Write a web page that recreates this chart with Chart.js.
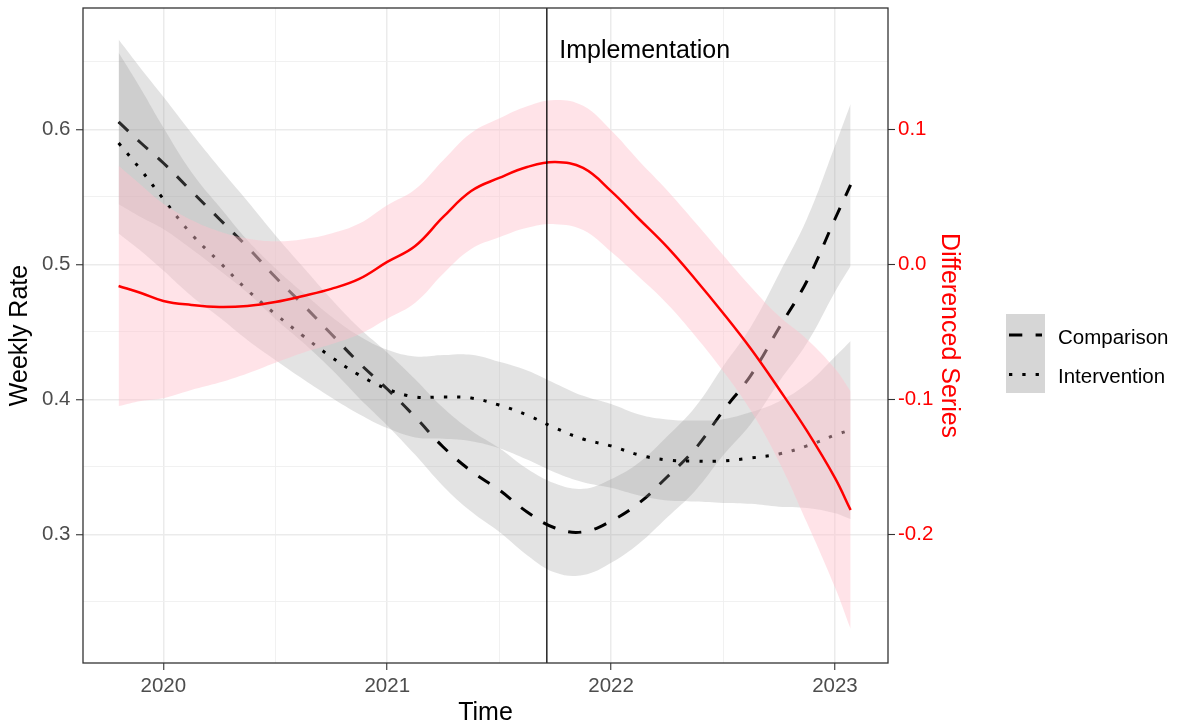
<!DOCTYPE html>
<html>
<head>
<meta charset="utf-8">
<script src="https://cdn.jsdelivr.net/npm/chart.js@4.4.1/dist/chart.umd.min.js"></script>
<style>
html,body{margin:0;padding:0;background:#ffffff;}
canvas{display:block;}
</style>
</head>
<body>
<canvas id="chart" width="1184" height="726"></canvas>
<script>
// ---------------- data ----------------
const years = [2019.8, 2019.9, 2020, 2020.125, 2020.25, 2020.375, 2020.5, 2020.625, 2020.75, 2020.875,
  2021, 2021.125, 2021.25, 2021.375, 2021.5, 2021.625, 2021.75, 2021.875,
  2022, 2022.125, 2022.25, 2022.375, 2022.5, 2022.625, 2022.75, 2022.875, 2023, 2023.07];

const comparisonMean  = [0.6056, 0.5900, 0.5752, 0.5544, 0.5337, 0.5130, 0.4907, 0.4700, 0.4485, 0.4270,
  0.4078, 0.3870, 0.3648, 0.3470, 0.3330, 0.3167, 0.3048, 0.3019,
  0.3100, 0.3233, 0.3426, 0.3633, 0.3915, 0.4181, 0.4530, 0.4878, 0.5337, 0.5589];
const comparisonUpper = [0.6666, 0.6450, 0.6242, 0.5974, 0.5717, 0.5470, 0.5217, 0.4980, 0.4745, 0.4530,
  0.4348, 0.4150, 0.3938, 0.3770, 0.3640, 0.3487, 0.3378, 0.3339,
  0.3410, 0.3533, 0.3726, 0.3943, 0.4245, 0.4541, 0.4930, 0.5338, 0.5877, 0.6189];
const comparisonLower = [0.5446, 0.5350, 0.5262, 0.5114, 0.4957, 0.4790, 0.4597, 0.4420, 0.4225, 0.4010,
  0.3808, 0.3590, 0.3358, 0.3170, 0.3020, 0.2847, 0.2718, 0.2699,
  0.2790, 0.2933, 0.3126, 0.3323, 0.3585, 0.3821, 0.4130, 0.4418, 0.4797, 0.4989];

const interventionMean  = [0.5900, 0.5700, 0.5485, 0.5226, 0.5019, 0.4811, 0.4633, 0.4470, 0.4315, 0.4181,
  0.4078, 0.4019, 0.4019, 0.4011, 0.3959, 0.3885, 0.3789, 0.3707,
  0.3656, 0.3589, 0.3552, 0.3544, 0.3544, 0.3567, 0.3596, 0.3656, 0.3737, 0.3774];
const interventionUpper = [0.6570, 0.6300, 0.6015, 0.5686, 0.5429, 0.5181, 0.4973, 0.4790, 0.4615, 0.4471,
  0.4368, 0.4319, 0.4329, 0.4331, 0.4279, 0.4215, 0.4119, 0.4027,
  0.3966, 0.3889, 0.3852, 0.3844, 0.3854, 0.3907, 0.3986, 0.4116, 0.4317, 0.4434];
const interventionLower = [0.5230, 0.5100, 0.4955, 0.4766, 0.4609, 0.4441, 0.4293, 0.4150, 0.4015, 0.3891,
  0.3788, 0.3719, 0.3709, 0.3691, 0.3639, 0.3555, 0.3459, 0.3387,
  0.3346, 0.3289, 0.3252, 0.3244, 0.3234, 0.3227, 0.3206, 0.3196, 0.3157, 0.3114];

const differencedMean  = [-0.0159, -0.0211, -0.0270, -0.0300, -0.0315, -0.0307, -0.0278, -0.0233, -0.0181, -0.0107,
  0.0019, 0.0137, 0.0352, 0.0544, 0.0641, 0.0722, 0.0759, 0.0715,
  0.0544, 0.0337, 0.0130, -0.0107, -0.0359, -0.0626, -0.0922, -0.1233, -0.1581, -0.1819];
const differencedUpper = [0.0731, 0.0589, 0.0450, 0.0330, 0.0245, 0.0193, 0.0172, 0.0187, 0.0229, 0.0303,
  0.0439, 0.0557, 0.0772, 0.0974, 0.1081, 0.1172, 0.1219, 0.1175,
  0.0994, 0.0767, 0.0550, 0.0313, 0.0071, -0.0166, -0.0382, -0.0553, -0.0771, -0.0939];
const differencedLower = [-0.1049, -0.1011, -0.0990, -0.0930, -0.0875, -0.0807, -0.0728, -0.0653, -0.0591, -0.0517,
  -0.0401, -0.0283, -0.0068, 0.0114, 0.0201, 0.0272, 0.0299, 0.0255,
  0.0094, -0.0093, -0.0290, -0.0527, -0.0789, -0.1086, -0.1462, -0.1913, -0.2391, -0.2699];

const seriesNames = ['Comparison', 'Intervention'];
const xTickValues = [2020, 2020.5, 2021, 2021.5, 2022, 2022.5, 2023];
const leftTickValues = [0.25, 0.3, 0.35, 0.4, 0.45, 0.5, 0.55, 0.6, 0.65];
const rightTickValues = [-0.2, -0.1, 0.0, 0.1];
const implementationYear = 2021.713;
const implementationLabel = 'Implementation';
const implementationLabelPos = [2022.15, 0.658];

const xRange = [2019.641, 2023.237];
const leftRange = [0.2048, 0.6900];
const rightOffset = 0.5;

// ---------------- styling ----------------
const FONT = '"Liberation Sans", Arial, Helvetica, sans-serif';
const GREY_FILL = 'rgba(153,153,153,0.27)';
const PINK_FILL = 'rgba(255,192,203,0.45)';
const TICK_COL = '#4D4D4D';
const AXIS_COL = '#333333';
const GRID_COL = '#EBEBEB';
const NONE = 'rgba(0,0,0,0)';

const pts = arr => arr.map((v, i) => ({x: years[i], y: v}));
const base = {pointRadius: 0, pointHoverRadius: 0, tension: 0.4};
const band = (arr, axis, color, fillNext, order) => Object.assign({
  data: pts(arr), yAxisID: axis, borderColor: NONE, borderWidth: 0,
  backgroundColor: color, fill: fillNext ? '+1' : false, order: order
}, base);

const isHalfMajor = v => Math.abs(v * 10 - Math.round(v * 10)) < 1e-6;
const isYearMajor = v => Math.abs(v - Math.round(v)) < 1e-6;

const decor = {
  id: 'decor',
  afterDatasetsDraw(chart) {
    const {ctx, chartArea: a, scales} = chart;
    const px = scales.x.getPixelForValue(implementationYear);
    ctx.save();
    ctx.beginPath();
    ctx.rect(a.left, a.top, a.right - a.left, a.bottom - a.top);
    ctx.clip();
    ctx.strokeStyle = '#000';
    ctx.lineWidth = 1.3;
    ctx.beginPath();
    ctx.moveTo(px, a.top);
    ctx.lineTo(px, a.bottom);
    ctx.stroke();
    ctx.restore();
    ctx.save();
    ctx.font = '25px ' + FONT;
    ctx.fillStyle = '#000';
    ctx.textAlign = 'center';
    ctx.textBaseline = 'middle';
    ctx.fillText(implementationLabel,
      scales.x.getPixelForValue(implementationLabelPos[0]),
      scales.y.getPixelForValue(implementationLabelPos[1]));
    ctx.restore();
  },
  afterDraw(chart) {
    const {ctx, chartArea: a} = chart;
    ctx.save();
    // panel border
    ctx.strokeStyle = AXIS_COL;
    ctx.lineWidth = 1.3;
    ctx.strokeRect(a.left, a.top, a.right - a.left, a.bottom - a.top);
    // legend
    const lx = a.right + 118, ly = 314, kw = 39, kh = 39.5;
    ctx.fillStyle = '#D6D6D6';
    ctx.fillRect(lx, ly, kw, kh * 2);
    const dashes = [[13.3, 13.3], [3.3, 10]];
    ctx.strokeStyle = '#000';
    ctx.lineWidth = 3;
    ctx.lineCap = 'butt';
    seriesNames.forEach((name, i) => {
      const cy = ly + kh * i + 21;
      ctx.setLineDash(dashes[i]);
      ctx.beginPath();
      ctx.moveTo(lx + 3, cy);
      ctx.lineTo(lx + kw - 3, cy);
      ctx.stroke();
      ctx.setLineDash([]);
      ctx.fillStyle = '#000';
      ctx.font = '20.5px ' + FONT;
      ctx.textAlign = 'left';
      ctx.textBaseline = 'middle';
      ctx.fillText(name, lx + 52, cy + 3);
    });
    ctx.restore();
  }
};

const datasets = [
  Object.assign({label: 'Differenced Series', data: pts(differencedMean), yAxisID: 'y2',
    borderColor: '#FF0000', borderWidth: 2.5, fill: false, order: 0}, base),
  band(differencedUpper, 'y2', PINK_FILL, true, 1),
  band(differencedLower, 'y2', NONE, false, 2),
  Object.assign({label: seriesNames[1], data: pts(interventionMean), yAxisID: 'y',
    borderColor: '#000', borderWidth: 3, borderDash: [3.3, 10], borderCapStyle: 'butt', fill: false, order: 3}, base),
  band(interventionUpper, 'y', GREY_FILL, true, 4),
  band(interventionLower, 'y', NONE, false, 5),
  Object.assign({label: seriesNames[0], data: pts(comparisonMean), yAxisID: 'y',
    borderColor: '#000', borderWidth: 3, borderDash: [13.3, 13.3], borderCapStyle: 'butt', fill: false, order: 6}, base),
  band(comparisonUpper, 'y', GREY_FILL, true, 7),
  band(comparisonLower, 'y', NONE, false, 8)
];

new Chart(document.getElementById('chart'), {
  type: 'line',
  data: {datasets},
  plugins: [decor],
  options: {
    responsive: false,
    animation: false,
    devicePixelRatio: 1,
    layout: {padding: {left: 0, right: 216, top: 8, bottom: 0}},
    plugins: {legend: {display: false}, tooltip: {enabled: false}, filler: {propagate: false}},
    scales: {
      x: {
        type: 'linear', position: 'bottom', min: xRange[0], max: xRange[1],
        afterBuildTicks: s => { s.ticks = xTickValues.map(v => ({value: v})); },
        afterFit: s => { s.height = 63; s.paddingLeft = 0; s.paddingRight = 0; },
        border: {display: false},
        grid: {
          color: c => (c.tick && isYearMajor(c.tick.value)) ? GRID_COL : '#EFEFEF',
          lineWidth: c => (c.tick && isYearMajor(c.tick.value)) ? 1.5 : 0.9,
          tickColor: c => (c.tick && isYearMajor(c.tick.value)) ? AXIS_COL : NONE,
          tickWidth: 1.1, tickLength: 7
        },
        ticks: {
          autoSkip: false, maxRotation: 0, minRotation: 0, padding: 4, color: TICK_COL,
          font: {family: FONT, size: 20.5},
          callback: v => isYearMajor(v) ? String(Math.round(v)) : ''
        },
        title: {display: true, text: 'Time', color: '#000', font: {family: FONT, size: 25, lineHeight: 1},
          padding: {top: 0, bottom: 0}}
      },
      y: {
        type: 'linear', position: 'left', min: leftRange[0], max: leftRange[1],
        afterBuildTicks: s => { s.ticks = leftTickValues.map(v => ({value: v})); },
        afterFit: s => { s.width = 83; s.paddingTop = 0; s.paddingBottom = 0; },
        border: {display: false},
        grid: {
          color: c => (c.tick && isHalfMajor(c.tick.value)) ? GRID_COL : '#EFEFEF',
          lineWidth: c => (c.tick && isHalfMajor(c.tick.value)) ? 1.5 : 0.9,
          tickColor: c => (c.tick && isHalfMajor(c.tick.value)) ? AXIS_COL : NONE,
          tickWidth: 1.1, tickLength: 7
        },
        ticks: {
          autoSkip: false, padding: 5.5, color: TICK_COL, font: {family: FONT, size: 20.5},
          callback: v => isHalfMajor(v) ? v.toFixed(1) : ''
        },
        title: {display: true, text: 'Weekly Rate', color: '#000', font: {family: FONT, size: 25},
          padding: {top: 5, bottom: 0}}
      },
      y2: {
        type: 'linear', position: 'right', min: leftRange[0] - rightOffset, max: leftRange[1] - rightOffset,
        afterBuildTicks: s => { s.ticks = rightTickValues.map(v => ({value: v})); },
        afterFit: s => { s.width = 80; s.paddingTop = 0; s.paddingBottom = 0; },
        border: {display: false},
        grid: {drawOnChartArea: false, tickColor: AXIS_COL, tickWidth: 1.1, tickLength: 7},
        ticks: {
          autoSkip: false, padding: 3, color: '#FF0000', font: {family: FONT, size: 20.5},
          callback: v => v.toFixed(1)
        },
        title: {display: true, text: 'Differenced Series', color: '#FF0000', font: {family: FONT, size: 25},
          padding: {top: 4.3, bottom: 0}}
      }
    }
  }
});
</script>
</body>
</html>
